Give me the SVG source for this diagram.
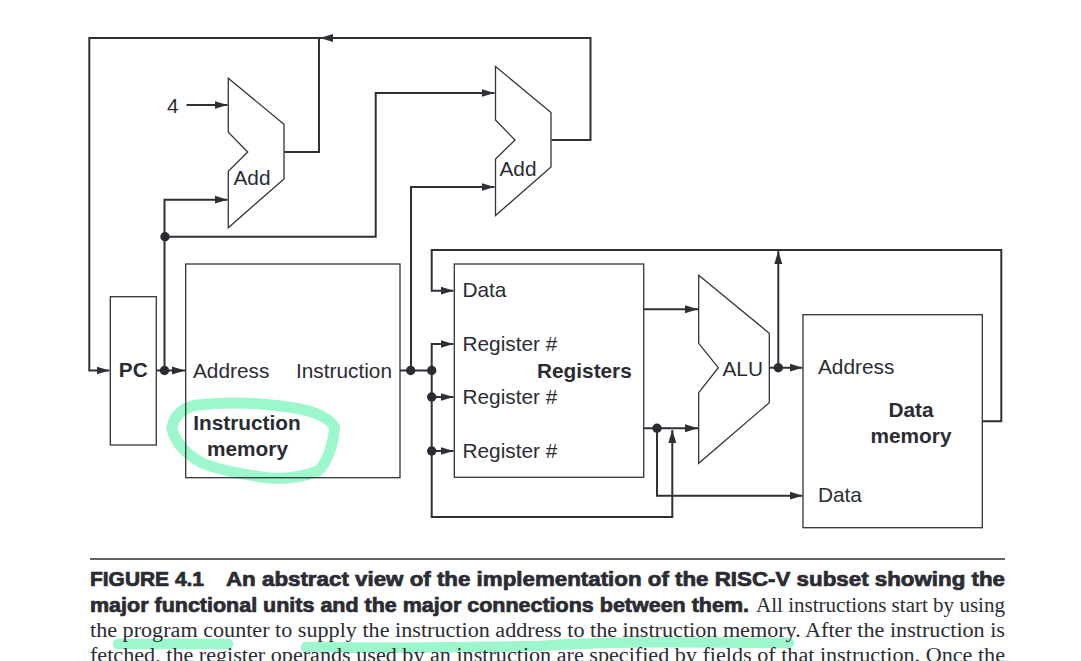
<svg xmlns="http://www.w3.org/2000/svg" width="1081" height="661" viewBox="0 0 1081 661">
<style>
text{font-family:"Liberation Sans",Arial,sans-serif;font-size:20.8px;fill:#2b2c33}
.b{font-weight:700}
.m{text-anchor:middle}
.box{fill:none;stroke:#33343a;stroke-width:1.3}
.w{fill:none;stroke:#2f3036;stroke-width:2;stroke-linejoin:miter}
.hl{fill:none;stroke:#9df7cc;stroke-linecap:round;stroke-linejoin:round}
.cap{font-family:"Liberation Sans",Arial,sans-serif;font-size:19.5px;font-weight:700;stroke:#2b2c33;stroke-width:.7}
.ser{font-family:"Liberation Serif","Times New Roman",serif;font-size:20.5px}
</style>
<defs>
<marker id="arr" markerUnits="userSpaceOnUse" markerWidth="14" markerHeight="10" refX="13" refY="4.5" orient="auto"><path d="M0 0.5L13 4.5L0 8.5z" fill="#2f3036"/></marker>
</defs>
<rect width="1081" height="661" fill="#fff"/>
<g id="highlights">
<path class="hl" stroke-width="11" d="M171.7 428C175 413 185 407 197 405C225 402 250 402 280 406C305 409 325 413 334.5 427C334 442 327 464 318 471C300 478 285 479 270 478C245 475 222 471 202 463C186 454 176 444 171.7 428Z"/>
<path class="hl" stroke-width="10.5" d="M118 644L228 644"/>
<path class="hl" stroke-width="10.5" d="M306 647C370 648 450 648 540 646C610 641 690 642 789 643"/>
</g>
<g id="connectors">
<path class="w" marker-end="url(#arr)" d="M284.3 152H319V38H89.3V370.5H109.5"/>
<path class="w" stroke-width="1.5" marker-end="url(#arr)" d="M186.5 105H227.5"/>
<path class="w" marker-end="url(#arr)" d="M164.5 370.5V199.7H227.5"/>
<path class="w" marker-end="url(#arr)" d="M164.5 236.7H375.7V93H494.5"/>
<path class="w" marker-end="url(#arr)" d="M551.5 140H590.5V38H320"/>
<path class="w" marker-end="url(#arr)" d="M411 370.5V187H494.5"/>
<path class="w" marker-end="url(#arr)" d="M156.5 370.5H185"/>
<path class="w" d="M400 370.5H432"/>
<path class="w" marker-end="url(#arr)" d="M431.7 370.5V344H453.5"/>
<path class="w" marker-end="url(#arr)" d="M431.7 397H453.5"/>
<path class="w" marker-end="url(#arr)" d="M431.7 451H453.5"/>
<path class="w" marker-end="url(#arr)" d="M431.7 370.5V517H672.3V430"/>
<path class="w" marker-end="url(#arr)" d="M982.3 421.3H1001.3V250H431.7V290.7H453.5"/>
<path class="w" marker-end="url(#arr)" d="M643.7 309.3H698"/>
<path class="w" marker-end="url(#arr)" d="M643.7 428.3H698"/>
<path class="w" marker-end="url(#arr)" d="M657 428.3V495.7H802.5"/>
<path class="w" marker-end="url(#arr)" d="M769.5 367.7H802.5"/>
<path class="w" marker-end="url(#arr)" d="M778.3 367.7V251"/>
<g fill="#2b2c33">
<circle cx="165" cy="236.7" r="4.7"/><circle cx="164.5" cy="370.5" r="4.7"/>
<circle cx="410.7" cy="370.5" r="4.7"/><circle cx="431.7" cy="370.5" r="4.7"/>
<circle cx="431.7" cy="397" r="4.7"/><circle cx="431.7" cy="451" r="4.7"/>
<circle cx="657" cy="428.3" r="4.7"/><circle cx="778.3" cy="367.7" r="4.7"/>
</g>
</g>
<g id="four"><text x="167" y="112.5">4</text></g>
<g id="add1"><path class="box" d="M228.3 78.3L284 124.3V179L228.3 227.7V171.3L247.7 152L228.3 132.3Z"/><text x="233.5" y="185">Add</text></g>
<g id="add2"><path class="box" d="M495.5 66.5L551 112.5V167L495.5 215.5V159L515 140L495.5 120Z"/><text x="499.5" y="176">Add</text></g>
<g id="pc"><rect class="box" x="110.3" y="296.7" width="46" height="148.3"/><text class="b m" x="133.3" y="377">PC</text></g>
<g id="instruction-memory"><rect class="box" x="185.7" y="264" width="214.3" height="213.7"/>
<text x="193" y="378">Address</text><text x="296" y="378">Instruction</text>
<text class="b m" x="247" y="430">Instruction</text><text class="b m" x="247.5" y="456">memory</text></g>
<g id="registers"><rect class="box" x="454.3" y="264" width="189.4" height="213.3"/>
<text x="462.5" y="297">Data</text><text x="462.5" y="351">Register #</text><text x="462.5" y="404">Register #</text><text x="462.5" y="458">Register #</text>
<text class="b" x="537" y="377.5">Registers</text></g>
<g id="alu"><path class="box" d="M698.7 275.3L769.3 333.3V402.7L698.7 463.3V392.7L718.3 367.7L698.7 343.3Z"/><text x="722.5" y="376">ALU</text></g>
<g id="data-memory"><rect class="box" x="803" y="314.7" width="179.3" height="213"/>
<text x="818" y="374">Address</text><text x="818" y="502">Data</text>
<text class="b m" x="911" y="417">Data</text><text class="b m" x="911" y="443">memory</text></g>
<g id="caption">
<path d="M90 559H1005" stroke="#2f3036" stroke-width="1.3"/>
<text class="cap" x="90" y="586" textLength="114" lengthAdjust="spacingAndGlyphs">FIGURE 4.1</text>
<text class="cap" x="226" y="586" textLength="779" lengthAdjust="spacingAndGlyphs">An abstract view of the implementation of the RISC-V subset showing the</text>
<text class="cap" x="90" y="611.5" textLength="659" lengthAdjust="spacingAndGlyphs">major functional units and the major connections between them.</text>
<text class="ser" x="756" y="611.5" textLength="249" lengthAdjust="spacingAndGlyphs">All instructions start by using</text>
<text class="ser" x="90" y="636.5" textLength="915" lengthAdjust="spacingAndGlyphs">the program counter to supply the instruction address to the instruction memory. After the instruction is</text>
<text class="ser" x="90" y="661.5" textLength="915" lengthAdjust="spacingAndGlyphs">fetched, the register operands used by an instruction are specified by fields of that instruction. Once the</text>
</g>
</svg>
